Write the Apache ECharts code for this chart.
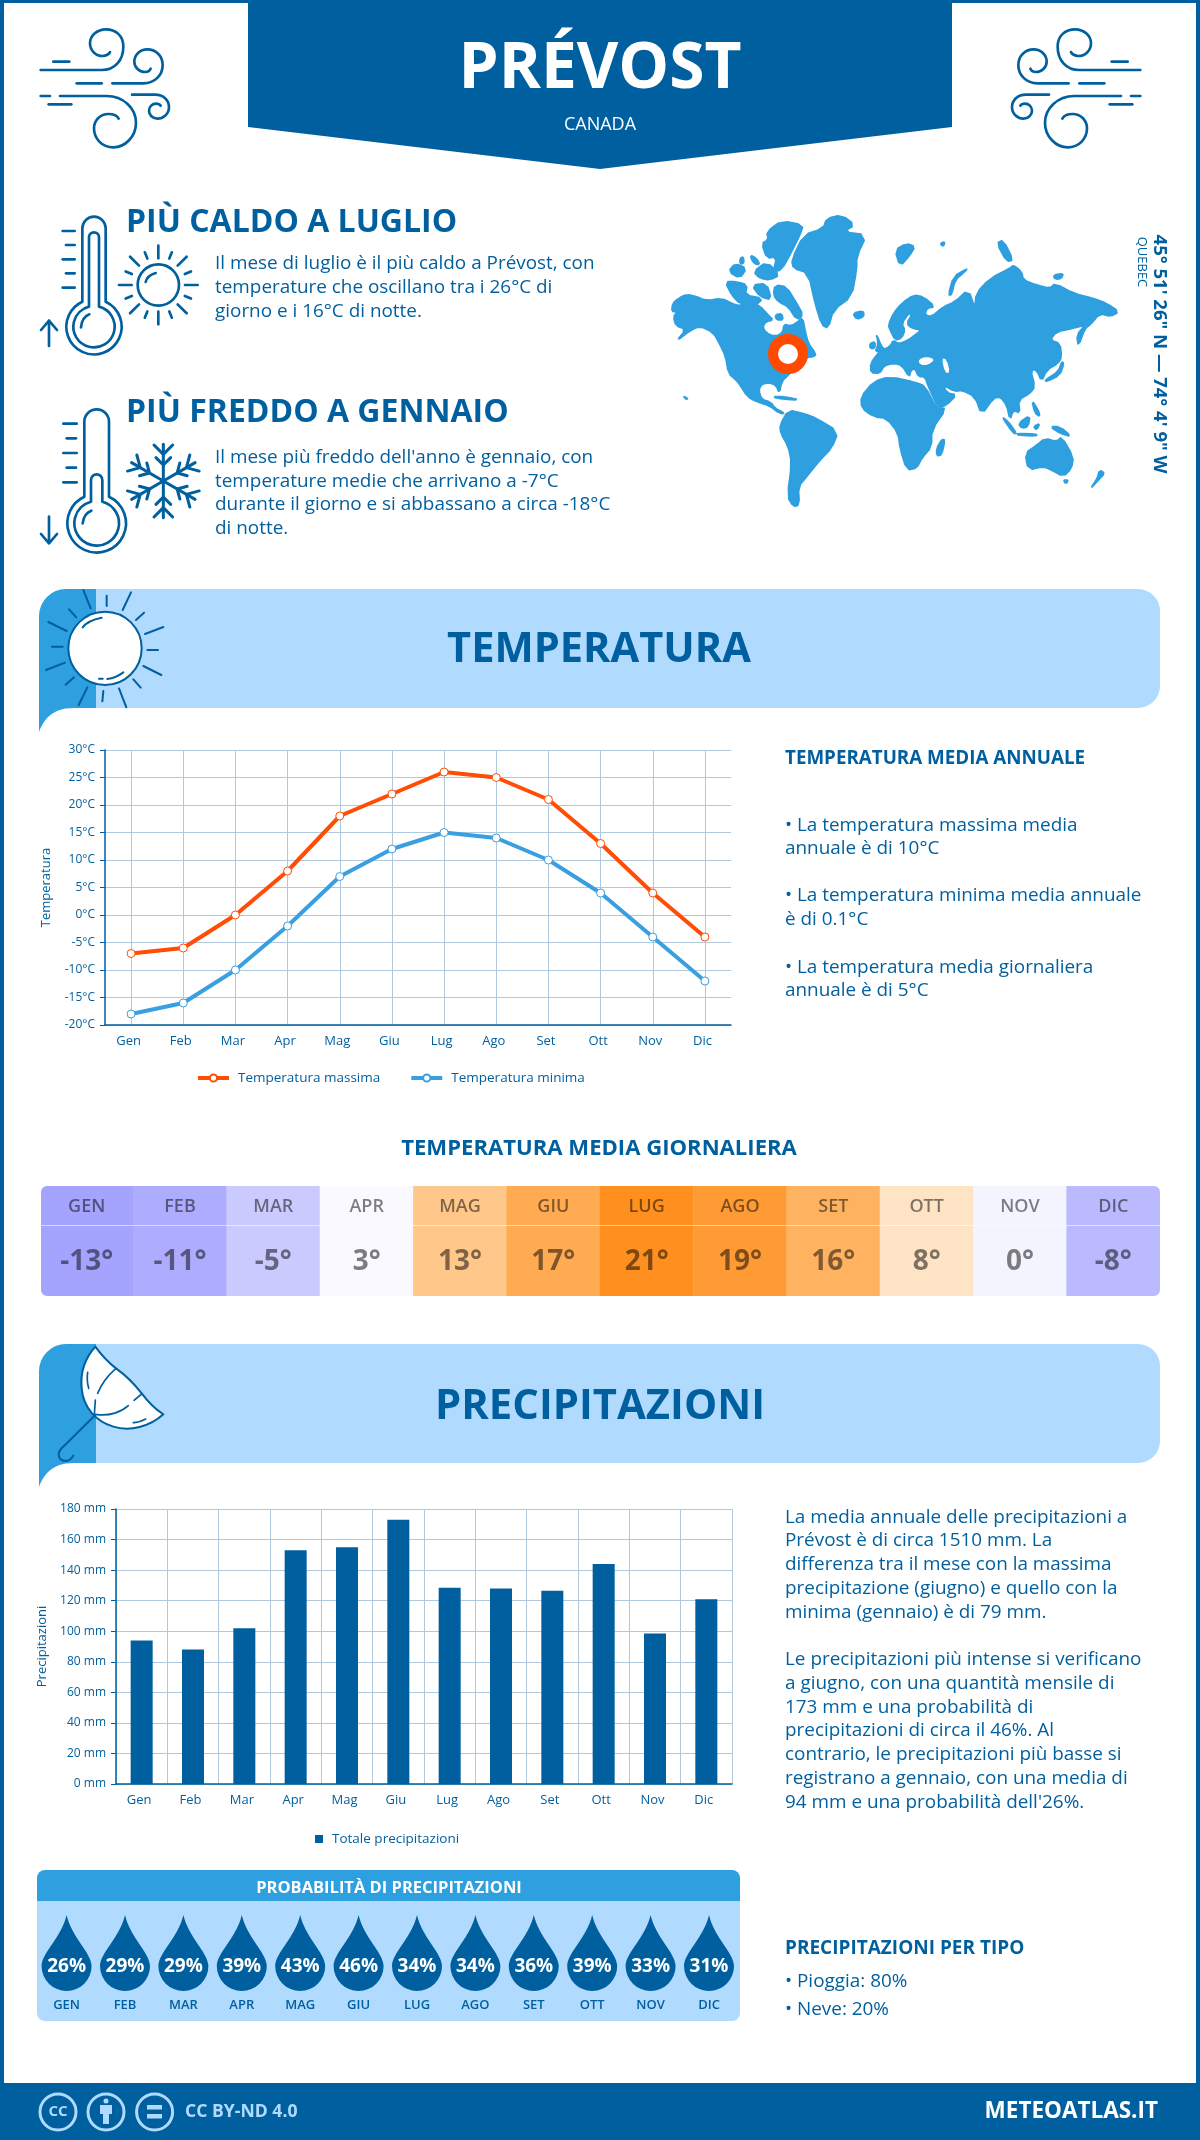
<!DOCTYPE html>
<html>
<head>
<meta charset="utf-8">
<title>Prévost</title>
<script src="https://cdn.jsdelivr.net/npm/echarts@6/dist/echarts.min.js"></script>
<style>
  html, body { margin: 0; padding: 0; background: #fff; }
  #main { width: 1200px; height: 2140px; }
</style>
</head>
<body>
<div id="main"></div>
<script>
// data
var months = ['Gen', 'Feb', 'Mar', 'Apr', 'Mag', 'Giu', 'Lug', 'Ago', 'Set', 'Ott', 'Nov', 'Dic'];
var tempMax = [-7, -6, 0, 8, 18, 22, 26, 25, 21, 13, 4, -4];
var tempMin = [-18, -16, -10, -2, 7, 12, 15, 14, 10, 4, -4, -12];
var tempAvg = [-13, -11, -5, 3, 13, 17, 21, 19, 16, 8, 0, -8];
var rain = [94, 88, 102, 153, 155, 173, 128.5, 128, 126.5, 144, 98.5, 121];
var rainProb = [26, 29, 29, 39, 43, 46, 34, 34, 36, 39, 33, 31];
var tempColors = ['#a4a3fe', '#b6b5fe', '#cbcaff', '#f2f2ff', '#f9f9ff', '#ffe8d0', '#ffd3a3', '#ffba6e', '#ff9b35', '#ff850a'];

var BLUE = '#005f9e', SKY = '#2e9fdf', PALE = '#b0dbff', RED = '#ff4d06', GRID = '#b0c9de';
var FONT = '"Open Sans"';

// decoration, everything below is painted by one custom series
var decor = [];

function text(str, x, y, size, weight, color, align, rotation) {
    return {
        type: 'text', x: x, y: y, rotation: rotation || 0,
        style: {
            text: str, fill: color || BLUE,
            font: (weight || 'normal') + ' ' + size + 'px ' + FONT,
            align: align || 'left', verticalAlign: 'middle'
        }
    };
}
function fillPath(d, color) {
    return { type: 'path', shape: { pathData: d }, style: { fill: color, stroke: 'none' } };
}
function line(d, width, fill, color) {
    return {
        type: 'path', shape: { pathData: d },
        style: { fill: fill || 'none', stroke: color || BLUE, lineWidth: width, lineCap: 'round', lineJoin: 'round' }
    };
}
// icons were traced on a 3x crop, so the groups scale them down
function icon(x, y, children, mirror) {
    return { type: 'group', x: x, y: y, scaleX: (mirror ? -1 : 1) / 3, scaleY: 1 / 3, children: children };
}
// one corner cutting pass so the traced outlines are less angular
function soften(pts) {
    var out = [];
    pts.forEach(function (p, i) {
        var q = pts[(i + 1) % pts.length];
        out.push([p[0] * 0.75 + q[0] * 0.25, p[1] * 0.75 + q[1] * 0.25]);
        out.push([p[0] * 0.25 + q[0] * 0.75, p[1] * 0.25 + q[1] * 0.75]);
    });
    return out;
}
function poly(pts) {
    return 'M' + pts.join(' L') + ' Z';
}

var windIcon = [
    'M62 180 H245 C285 180 310 150 310 110 C310 75 285 58 258 58 C230 58 210 78 210 100 C210 122 228 138 248 138 C258 138 268 132 270 126',
    'M100 155 H148', 'M170 220 H245',
    'M277 220 H370 C405 220 428 195 428 165 C428 135 405 118 382 118 C360 118 343 135 343 155 C343 172 358 186 375 186 C382 186 390 182 392 176',
    'M62 258 H90',
    'M120 258 H260 C310 258 348 295 348 338 C348 380 315 412 280 412 C245 412 222 385 222 355 C222 330 242 312 265 312 C280 312 292 318 296 326',
    'M86 283 H154',
    'M336 254 H405 C430 254 447 270 447 292 C447 312 430 326 412 326 C398 326 387 315 387 302 C387 290 397 281 408 281 C414 281 420 284 422 287'
].map(function (d) { return line(d, 8); });

var hotThermo = [
    'M157 305 V85 A35 35 0 0 1 227 85 V305 A83 83 0 1 1 157 305 Z',
    'M177 320 V112 A15 15 0 0 1 207 112 V320 A62 62 0 1 1 177 320 Z',
    'M153 382 C155 362 165 348 178 343',
    'M98 93 H134', 'M108 135 H134', 'M98 178 H134', 'M108 220 H134', 'M98 263 H134',
    'M57 438 V362 M33 390 L57 362 L81 390'
].map(function (d) { return line(d, 8); });

var coldThermo = [
    'M163 305 V80 A37 37 0 0 1 237 80 V305 A88 88 0 1 1 163 305 Z',
    'M183 320 V255 A17 17 0 0 1 217 255 V320 A67 67 0 1 1 183 320 Z',
    'M158 385 C160 365 170 352 184 347',
    'M100 86 H140', 'M110 130 H138', 'M100 174 H140', 'M110 218 H138', 'M100 262 H140',
    'M57 365 V445 M33 417 L57 445 L81 417'
].map(function (d) { return line(d, 8); });

function smallSun() {
    var cx = 385, cy = 255, out = [];
    out.push(line('M' + (cx - 62) + ' ' + cy + ' A62 62 0 1 1 ' + (cx + 62) + ' ' + cy + ' A62 62 0 1 1 ' + (cx - 62) + ' ' + cy + ' Z', 8));
    out.push(line('M347 246 C350 232 360 224 377 219', 8));
    for (var i = 0; i < 16; i++) {
        var a = i * Math.PI / 8, r0, r1;
        if (i % 4 === 0) { r0 = 80; r1 = 118; }
        else if (i % 2 === 0) { r0 = 82; r1 = 120; }
        else { r0 = 86; r1 = 106; }
        out.push(line('M' + (cx + r0 * Math.cos(a)) + ' ' + (cy + r0 * Math.sin(a)) +
            ' L' + (cx + r1 * Math.cos(a)) + ' ' + (cy + r1 * Math.sin(a)), 8));
    }
    return out;
}

function snowflake() {
    var cx = 400, cy = 258, out = [];
    function p(a, u, v) {
        return (cx + u * Math.cos(a) - v * Math.sin(a)) + ' ' + (cy + u * Math.sin(a) + v * Math.cos(a));
    }
    for (var i = 0; i < 6; i++) {
        var a = Math.PI / 2 + i * Math.PI / 3;
        out.push(line('M' + p(a, 0, 0) + ' L' + p(a, 110, 0), 9));
        out.push(line('M' + p(a, 108, -28) + ' L' + p(a, 80, 0) + ' L' + p(a, 108, 28), 9));
        out.push(line('M' + p(a, 70, -22) + ' L' + p(a, 48, 0) + ' L' + p(a, 70, 22), 9));
    }
    return out;
}

var bannerSun = [
    line('M115 205 A110 110 0 1 1 335 205 A110 110 0 1 1 115 205 Z', 6, '#fff'),
    line('M158 142 C170 125 190 118 215 113', 6), line('M232 297 C250 295 265 288 280 277', 6), line('M207 296 H218', 6)
].concat([
    'M160 30 L182 85', 'M230 47 V78', 'M303 37 L278 90', 'M342 98 L318 120', 'M400 141 L345 162', 'M352 210 H384',
    'M340 258 L394 285', 'M310 298 L332 323', 'M267 325 L289 382', 'M220 333 L217 364', 'M172 322 L146 375',
    'M132 292 L107 314', 'M105 248 L48 270', 'M98 200 H66', 'M110 153 L55 126', 'M139 112 L117 88'
].map(function (d) { return line(d, 6); }));

var umbrella = [
    line('M196 35 Q225 75 258 100 Q300 130 335 175 Q365 215 400 238 C360 275 300 290 250 275 C200 260 160 220 155 160 C150 110 165 70 196 35 Z', 6, '#fff'),
    line('M196 238 C240 245 275 230 295 212', 5), line('M312 196 L335 177', 5),
    line('M258 100 C235 120 215 145 203 175', 5), line('M196 195 L193 238', 5),
    line('M173 112 C170 130 172 145 176 160', 5), line('M310 263 C325 263 335 258 347 252', 5),
    line('M196 240 L95 340 C80 355 85 375 105 378 C115 378 125 370 130 362', 6)
];

// world silhouette, traced on a 3x crop of the map area
var landShapes = [
    // north america
    [[38,310],[55,295],[80,283],[110,290],[140,302],[185,295],[215,310],[240,318],[270,305],[300,318],[325,345],[340,360],[318,365],[308,380],[318,398],[345,410],[368,398],[372,372],[392,378],[410,368],[428,352],[436,395],[445,430],[468,462],[462,470],[440,472],[415,495],[385,525],[365,545],[358,580],[348,555],[325,548],[305,553],[296,570],[305,598],[332,606],[345,625],[375,640],[358,640],[330,618],[290,605],[262,590],[240,555],[228,540],[205,520],[197,470],[178,430],[160,398],[120,378],[90,392],[48,425],[78,388],[48,378],[40,350],[52,335],[35,335]],
    // arctic canada
    [[345,255],[380,260],[410,310],[430,345],[410,360],[385,320],[355,305],[340,285]],
    [[195,245],[230,245],[262,255],[255,285],[310,295],[285,318],[240,312],[215,285]],
    [[275,255],[320,250],[335,300],[300,290]],
    [[320,95],[365,62],[430,75],[420,105],[395,155],[365,210],[340,215],[350,170],[320,175],[305,130],[325,120]],
    [[205,215],[225,190],[260,205],[240,235]],
    [[280,215],[320,185],[360,225],[330,240],[300,235]],
    [[240,175],[250,170],[252,190],[240,192]],
    [[270,165],[290,175],[300,195],[280,190]],
    [[345,345],[365,340],[370,360],[350,360]],
    // greenland, iceland
    [[395,180],[430,105],[490,85],[500,55],[545,45],[585,75],[550,95],[620,105],[590,170],[590,210],[575,290],[520,330],[505,385],[485,375],[465,310],[445,220],[400,205]],
    [[578,340],[610,332],[612,350],[590,358]],
    // caribbean, hawaii
    [[335,590],[375,590],[420,600],[370,598]],
    [[70,588],[84,596],[78,598]],
    // south america
    [[360,675],[385,630],[430,640],[470,655],[535,695],[515,745],[480,780],[440,830],[415,860],[418,915],[400,920],[382,890],[395,790],[385,740],[362,700]],
    // africa, madagascar
    [[603,590],[640,545],[690,530],[770,548],[795,558],[830,625],[860,625],[815,690],[815,740],[785,775],[770,805],[740,810],[720,745],[715,700],[680,655],[640,650],[605,625]],
    [[845,718],[855,720],[845,765],[830,768],[830,745]],
    // eurasia
    [[632,490],[650,465],[665,450],[690,440],[700,420],[715,432],[745,420],[765,405],[785,390],[755,385],[740,370],[755,345],[748,338],[725,370],[735,390],[725,415],[705,420],[690,390],[685,375],[700,340],[725,310],[760,285],[790,290],[825,320],[800,325],[795,345],[815,350],[850,320],[885,305],[925,268],[945,325],[948,280],[990,235],[1050,205],[1060,195],[1085,215],[1090,240],[1130,255],[1170,265],[1185,250],[1240,280],[1300,295],[1340,310],[1378,335],[1350,350],[1320,340],[1290,375],[1275,385],[1255,440],[1250,405],[1275,375],[1240,385],[1190,395],[1170,420],[1200,430],[1205,470],[1195,490],[1160,510],[1145,545],[1130,510],[1112,510],[1125,560],[1110,580],[1075,600],[1080,640],[1060,630],[1050,660],[1040,615],[1020,590],[1000,595],[965,645],[945,590],[905,570],[885,575],[850,555],[860,578],[890,585],[860,615],[835,625],[805,560],[795,530],[775,530],[765,505],[752,512],[748,532],[725,495],[700,490],[672,497],[660,520],[632,518]],
    // japan, islands of the north
    [[1155,540],[1195,515],[1205,485],[1212,490],[1200,525],[1160,545]],
    [[705,150],[740,130],[765,140],[750,165],[720,200]],
    [[840,130],[855,125],[850,140]],
    [[1010,130],[1030,120],[1060,180],[1040,185]],
    [[1180,225],[1210,220],[1205,235],[1185,238]],
    [[865,285],[880,230],[922,205],[915,215],[885,240],[875,285]],
    [[648,400],[665,440],[675,448],[645,458],[655,430]],
    [[630,430],[645,425],[645,445],[630,445]],
    // south east asia
    [[1025,650],[1045,665],[1070,700],[1060,700]],
    [[1070,700],[1130,702],[1130,708],[1075,706]],
    [[1075,670],[1110,645],[1105,680],[1085,685]],
    [[1115,600],[1135,630],[1140,650],[1125,640]],
    [[1120,680],[1140,670],[1130,690]],
    [[1170,680],[1200,680],[1235,710],[1200,700]],
    // australia, new zealand
    [[1095,760],[1130,735],[1155,715],[1190,725],[1205,710],[1240,770],[1235,805],[1210,830],[1175,810],[1150,800],[1105,810]],
    [[1210,840],[1225,840],[1218,852]],
    [[1290,868],[1315,840],[1335,820],[1318,810],[1312,835]]
];
// inland seas cut back out of the land
var seaShapes = [
    [[775,478],[800,470],[825,478],[805,495],[780,495]],
    [[845,475],[860,478],[870,518],[855,518]]
];
var worldMap = landShapes.map(function (s) { return line(poly(soften(s)), 5, SKY, SKY); })
    .concat(seaShapes.map(function (s) { return fillPath(poly(soften(s)), '#fff'); }))
    .concat([line('M339 462 A45 45 0 1 1 429 462 A45 45 0 1 1 339 462 Z', 30, '#fff', '#ff4a00')]);

function banner(y) {
    return [
        fillPath('M96 ' + y + ' H1138 A22 22 0 0 1 1160 ' + (y + 22) + ' V' + (y + 97) + ' A22 22 0 0 1 1138 ' + (y + 119) + ' H96 Z', PALE),
        fillPath('M39 ' + (y + 143) + ' C43 ' + (y + 133) + ' 50 ' + (y + 119) + ' 74 ' + (y + 119) + ' H96 V' + y +
            ' H66 A27 27 0 0 0 39 ' + (y + 27) + ' Z', SKY)
    ];
}

decor.push(
    fillPath('M0 0 H1200 V3 H1200 V2140 H1196 V3 H4 V2140 H0 Z', BLUE),
    fillPath('M248 0 H952 V127 L600 169 L248 127 Z', BLUE),
    fillPath('M0 2083 H1200 V2140 H0 Z', BLUE),
    fillPath('M37 1878 A8 8 0 0 1 45 1870 H732 A8 8 0 0 1 740 1878 V1901 H37 Z', SKY),
    fillPath('M37 1901 H740 V2013 A8 8 0 0 1 732 2021 H45 A8 8 0 0 1 37 2013 Z', PALE)
);
decor = decor.concat(banner(589), banner(1344));
decor.push(
    icon(20, 10, windIcon),
    icon(1161, 10, windIcon, true),
    icon(30, 200, hotThermo.concat(smallSun())),
    icon(30, 395, coldThermo.concat(snowflake())),
    icon(660, 200, worldMap),
    icon(30, 580, bannerSun),
    icon(30, 1335, umbrella)
);

// footer licence badges
decor.push(
    line('M40 2112 A18 18 0 1 1 76 2112 A18 18 0 1 1 40 2112 Z', 3, 'none', PALE),
    line('M88 2112 A18 18 0 1 1 124 2112 A18 18 0 1 1 88 2112 Z', 3, 'none', PALE),
    line('M136.6 2112 A18 18 0 1 1 172.6 2112 A18 18 0 1 1 136.6 2112 Z', 3, 'none', PALE),
    fillPath('M103.5 2101 A2.5 2.5 0 1 1 108.5 2101 A2.5 2.5 0 1 1 103.5 2101 Z M100 2105 H112 V2114 H109 V2124 H103 V2114 H100 Z', PALE),
    fillPath('M147 2105 H162 V2109.5 H147 Z M147 2114 H162 V2118.5 H147 Z', PALE),
    text('CC', 58, 2112, 15, 'bold', PALE, 'center'),
    text('CC BY-ND 4.0', 185, 2112, 17.6, 'bold', PALE),
    text('METEOATLAS.IT', 1158, 2112, 22.5, 'bold', '#fff', 'right')
);

// page texts
function lines(list, x, ys) {
    return list.map(function (s, i) { return text(s, x, ys[i], 18.9); });
}
decor.push(
    text('PRÉVOST', 600, 70, 64, 'bold', '#fff', 'center'),
    text('CANADA', 600, 125, 18, 'normal', '#fff', 'center'),
    text('PIÙ CALDO A LUGLIO', 126, 222.5, 32, 'bold'),
    text('PIÙ FREDDO A GENNAIO', 126, 412.5, 32, 'bold'),
    text('45° 51\' 26" N — 74° 4\' 9" W', 1159, 354, 18.5, 'bold', BLUE, 'center', -Math.PI / 2),
    text('QUEBEC', 1142, 262, 13, 'normal', BLUE, 'center', -Math.PI / 2),
    text('TEMPERATURA', 599, 650.5, 41.6, 'bold', BLUE, 'center'),
    text('PRECIPITAZIONI', 600, 1407, 41.8, 'bold', BLUE, 'center'),
    text('TEMPERATURA MEDIA ANNUALE', 785, 759, 18.8, 'bold'),
    text('TEMPERATURA MEDIA GIORNALIERA', 599, 1149, 22.1, 'bold', BLUE, 'center'),
    text('PROBABILITÀ DI PRECIPITAZIONI', 389, 1888, 16.5, 'bold', '#fff', 'center'),
    text('PRECIPITAZIONI PER TIPO', 785, 1949, 19, 'bold')
);
decor = decor.concat(
    lines(['Il mese di luglio è il più caldo a Prévost, con', 'temperature che oscillano tra i 26°C di', 'giorno e i 16°C di notte.'], 215, [263.5, 287.5, 311.5]),
    lines(['Il mese più freddo dell\'anno è gennaio, con', 'temperature medie che arrivano a -7°C', 'durante il giorno e si abbassano a circa -18°C', 'di notte.'], 215, [457.5, 481.5, 504.5, 528.5]),
    lines(['• La temperatura massima media', 'annuale è di 10°C', '• La temperatura minima media annuale', 'è di 0.1°C', '• La temperatura media giornaliera', 'annuale è di 5°C'], 785, [825.5, 848.5, 895.5, 919.5, 967.5, 990.5]),
    lines(['La media annuale delle precipitazioni a', 'Prévost è di circa 1510 mm. La', 'differenza tra il mese con la massima', 'precipitazione (giugno) e quello con la', 'minima (gennaio) è di 79 mm.'], 785, [1517.5, 1540.5, 1564.5, 1588.5, 1612.5]),
    lines(['Le precipitazioni più intense si verificano', 'a giugno, con una quantità mensile di', '173 mm e una probabilità di', 'precipitazioni di circa il 46%. Al', 'contrario, le precipitazioni più basse si', 'registrano a gennaio, con una media di', '94 mm e una probabilità dell\'26%.'], 785, [1659.5, 1683.5, 1707.5, 1730.5, 1754.5, 1778.5, 1802.5]),
    lines(['• Pioggia: 80%', '• Neve: 20%'], 785, [1981.5, 2009.5])
);

var axisText = { color: BLUE, fontFamily: FONT, fontSize: 12 };
var gridLine = { show: true, lineStyle: { color: GRID, width: 1 } };
var darkAxis = { show: true, onZero: false, lineStyle: { color: BLUE, width: 1.5 } };
var legendText = { color: BLUE, fontFamily: FONT, fontSize: 13.5, padding: [0, 0, 0, 4] };

function monthCells(row) {
    return tempAvg.map(function (v, i) { return [i, row, v]; });
}

var myChart = echarts.init(document.getElementById('main'));
myChart.setOption({
    animation: false,
    textStyle: { fontFamily: FONT },
    grid: [
        { left: 105, top: 750, width: 626, height: 275 },
        { left: 116, top: 1509, width: 616, height: 275 },
        { left: 40, top: 1186, width: 1120, height: 39 },
        { left: 40, top: 1226, width: 1120, height: 70 },
        { left: 37.4, top: 1915, width: 700.8, height: 76 }
    ],
    xAxis: [
        {
            gridIndex: 0, type: 'category', data: months, axisLine: darkAxis, axisTick: { show: false },
            axisLabel: Object.assign({}, axisText, { fontSize: 13, margin: 10, padding: [0, 5, 0, 0] }),
            splitLine: Object.assign({ alignWithLabel: true }, gridLine)
        },
        {
            gridIndex: 1, type: 'category', data: months, axisLine: darkAxis, axisTick: { show: false },
            axisLabel: Object.assign({}, axisText, { fontSize: 13, margin: 10, padding: [0, 5, 0, 0] }),
            splitLine: gridLine
        },
        { gridIndex: 2, type: 'category', data: months, show: false },
        { gridIndex: 3, type: 'category', data: months, show: false },
        {
            gridIndex: 4, type: 'category', data: months.map(function (m) { return m.toUpperCase(); }),
            axisLine: { show: false }, axisTick: { show: false }, splitLine: { show: false },
            axisLabel: { color: BLUE, fontFamily: FONT, fontSize: 13, fontWeight: 600, margin: 8 }
        }
    ],
    yAxis: [
        {
            gridIndex: 0, type: 'value', min: -20, max: 30, interval: 5,
            name: 'Temperatura', nameLocation: 'middle', nameGap: 52,
            nameTextStyle: { color: BLUE, fontFamily: FONT, fontSize: 13 },
            axisLine: darkAxis, axisTick: { show: true, length: 5, lineStyle: { color: BLUE } },
            axisLabel: Object.assign({ formatter: '{value}°C', margin: 10 }, axisText),
            splitLine: gridLine
        },
        {
            gridIndex: 1, type: 'value', min: 0, max: 180, interval: 20,
            name: 'Precipitazioni', nameLocation: 'middle', nameGap: 63,
            nameTextStyle: { color: BLUE, fontFamily: FONT, fontSize: 13 },
            axisLine: darkAxis, axisTick: { show: true, length: 5, lineStyle: { color: BLUE } },
            axisLabel: Object.assign({ formatter: '{value} mm', margin: 10 }, axisText),
            splitLine: gridLine
        },
        { gridIndex: 2, type: 'category', data: ['mese'], show: false },
        { gridIndex: 3, type: 'category', data: ['media'], show: false },
        { gridIndex: 4, type: 'value', min: 0, max: 1, show: false }
    ],
    legend: [
        {
            data: ['Temperatura massima', 'Temperatura minima'], left: 196, top: 1071, padding: 0,
            itemWidth: 31, itemHeight: 9, itemGap: 29, lineStyle: { width: 4 }, textStyle: legendText
        },
        {
            data: ['Totale precipitazioni'], left: 315, top: 1832, padding: 0, icon: 'rect',
            itemWidth: 8, itemHeight: 8, textStyle: legendText
        }
    ],
    visualMap: {
        show: false, type: 'continuous', dimension: 2, seriesIndex: [4, 5],
        min: -13, max: 23, inRange: { color: tempColors }
    },
    series: [
        {
            type: 'custom', coordinateSystem: 'none', silent: true, z: -1, data: [0],
            renderItem: function () { return { type: 'group', children: decor }; }
        },
        {
            name: 'Temperatura massima', type: 'line', xAxisIndex: 0, yAxisIndex: 0, data: tempMax,
            symbol: 'circle', symbolSize: 8, showAllSymbol: true,
            lineStyle: { color: RED, width: 4 },
            itemStyle: { color: '#fff', borderColor: RED, borderWidth: 1 }
        },
        {
            name: 'Temperatura minima', type: 'line', xAxisIndex: 0, yAxisIndex: 0, data: tempMin,
            symbol: 'circle', symbolSize: 8, showAllSymbol: true,
            lineStyle: { color: '#3a9fe0', width: 4 },
            itemStyle: { color: '#fff', borderColor: '#3a9fe0', borderWidth: 1 }
        },
        {
            name: 'Totale precipitazioni', type: 'bar', xAxisIndex: 1, yAxisIndex: 1, data: rain,
            barWidth: 22, itemStyle: { color: BLUE }
        },
        {
            type: 'heatmap', xAxisIndex: 2, yAxisIndex: 2, data: monthCells(0), silent: true,
            label: {
                show: true, color: 'rgba(0,0,0,0.5)', fontFamily: FONT, fontSize: 18, fontWeight: 600,
                offset: [0, 1],
                formatter: function (p) { return months[p.data[0]].toUpperCase(); }
            }
        },
        {
            type: 'heatmap', xAxisIndex: 3, yAxisIndex: 3, data: monthCells(0), silent: true,
            label: {
                show: true, color: 'rgba(0,0,0,0.5)', fontFamily: FONT, fontSize: 28, fontWeight: 'bold',
                offset: [0, 1],
                formatter: function (p) { return p.data[2] + '°'; }
            }
        },
        {
            type: 'scatter', xAxisIndex: 4, yAxisIndex: 4, silent: true,
            data: rainProb.map(function (v, i) { return [i, 0.5, v]; }),
            symbol: 'path://M25 0 C30 22 50 38 50 51 A25 25 0 0 1 0 51 C0 38 20 22 25 0 Z',
            symbolSize: [50, 76], symbolKeepAspect: false,
            itemStyle: { color: BLUE, opacity: 1 },
            label: {
                show: true, position: 'inside', offset: [0, 14], color: '#fff', fontFamily: FONT, fontSize: 19, fontWeight: 'bold',
                formatter: function (p) { return p.data[2] + '%'; }
            }
        }
    ],
    graphic: {
        elements: [
            // rounds off the corners of the monthly table
            {
                type: 'rect', z: 100, silent: true,
                shape: { x: 39, y: 1184, width: 1123, height: 114, r: 8 },
                style: { fill: 'none', stroke: '#fff', lineWidth: 4 }
            }
        ]
    }
});
</script>
</body>
</html>
